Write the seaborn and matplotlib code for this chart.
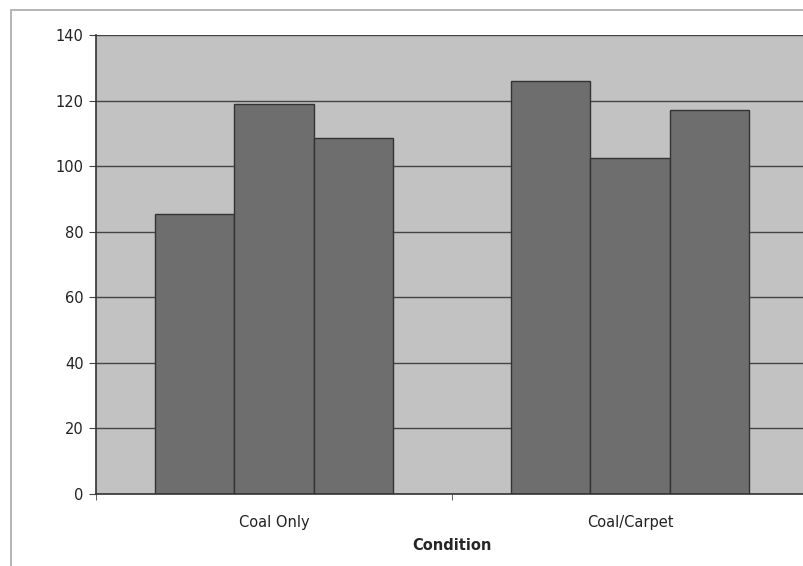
import matplotlib
matplotlib.use("Agg")
import matplotlib.pyplot as plt
import matplotlib.patches as mpatches
import seaborn as sns
import pandas as pd

conditions = ["Coal Only", "Coal/Carpet"]
replicates = ["1", "2", "3"]
coal_only = [85.5, 119, 108.5]
coal_carpet = [126, 102.5, 117]

df = pd.DataFrame({
    "Condition": [conditions[0]] * 3 + [conditions[1]] * 3,
    "Replicate": replicates * 2,
    "Value": coal_only + coal_carpet,
})

sns.set_style("white")
plt.rcParams["font.family"] = ["DejaVu Sans"]

fig = plt.figure(figsize=(8.04, 5.66), dpi=100)
ax = fig.add_axes([96 / 804, 72 / 566, 712 / 804, 459 / 566])
ax.set_facecolor("#c2c2c2")

sns.barplot(
    data=df,
    x="Condition",
    y="Value",
    hue="Replicate",
    palette=["#6e6e6e"] * 3,
    width=0.67,
    gap=0,
    edgecolor="#333333",
    linewidth=1,
    saturation=1,
    legend=False,
    ax=ax,
)

ax.set_ylim(0, 140)
ax.set_xlim(-0.5, 1.5)
ax.set_yticks(range(0, 141, 20))
ax.yaxis.grid(True, color="#444444", linewidth=1)
ax.set_axisbelow(True)

ax.set_xticks([-0.5, 0.5, 1.5], minor=True)
ax.tick_params(axis="x", which="major", length=0, pad=15, labelsize=10.5, colors="#222222")
ax.tick_params(axis="x", which="minor", length=4, color="#444444", bottom=True)
ax.tick_params(axis="y", length=5, pad=4, color="#444444", left=True, labelsize=10.5, colors="#222222")

for side in ["left", "bottom"]:
    ax.spines[side].set_color("#333333")
    ax.spines[side].set_linewidth(1.2)
ax.spines["top"].set_visible(False)
ax.spines["right"].set_visible(False)

ax.set_xlabel("Condition", fontweight="bold", fontsize=10.5, labelpad=6)
ax.set_ylabel("")

border = mpatches.Rectangle(
    (11 / 804, -0.1), 2, (566 - 9.5) / 566 + 0.1,
    transform=fig.transFigure, fill=False, edgecolor="#a8a8a8", linewidth=1.2,
)
fig.patches.append(border)

plt.savefig("out.png", dpi=100)
plt.close()
